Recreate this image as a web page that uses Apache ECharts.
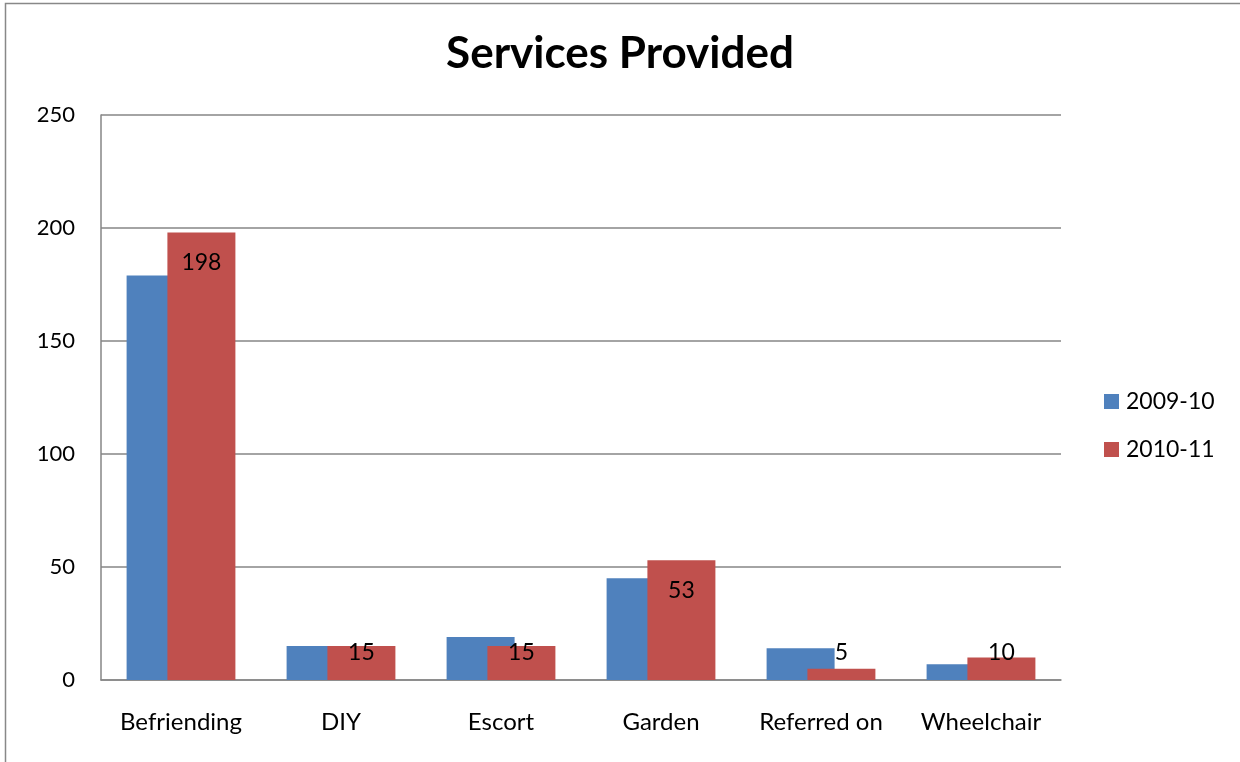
<!DOCTYPE html>
<html>
<head>
<meta charset="utf-8">
<style>
html,body{margin:0;padding:0;background:#fff;}
#chart{width:1240px;height:762px;}
</style>
<script src="https://cdn.jsdelivr.net/npm/echarts@6/dist/echarts.min.js"></script>
</head>
<body>
<div id="chart"></div>
<script>
var categories = ['Befriending', 'DIY', 'Escort', 'Garden', 'Referred on', 'Wheelchair'];
var series2009 = [179, 15, 19, 45, 14, 7];
var series2010 = [198, 15, 15, 53, 5, 10];
var seriesNames = ['2009-10', '2010-11'];
var yTicks = [0, 50, 100, 150, 200, 250];

var FONT = 'Lato';
var chart = echarts.init(document.getElementById('chart'));
chart.setOption({
  animation: false,
  backgroundColor: '#fff',
  textStyle: { fontFamily: FONT },
  graphic: [{
    type: 'rect',
    shape: { x: 5.5, y: 3.5, width: 1400, height: 900 },
    style: { fill: 'none', stroke: '#888', lineWidth: 1.5 },
    silent: true
  }],
  title: {
    text: 'Services Provided',
    left: 'center',
    top: 32,
    padding: 0,
    textStyle: { fontFamily: FONT, fontSize: 44, fontWeight: 'bold', color: '#000' }
  },
  legend: {
    orient: 'vertical',
    left: 1104,
    top: 390,
    padding: 0,
    itemWidth: 15,
    itemHeight: 15,
    itemGap: 25,
    icon: 'rect',
    textStyle: { fontFamily: FONT, fontSize: 23, color: '#000', padding: [0, 0, 0, 2] },
    data: seriesNames
  },
  grid: { left: 101, right: 179, top: 115, bottom: 82, containLabel: false },
  xAxis: {
    type: 'category',
    data: categories,
    axisLine: { lineStyle: { color: '#868686', width: 1.5 } },
    axisTick: { show: false },
    axisLabel: { fontFamily: FONT, fontSize: 24, color: '#000', margin: 30, interval: 0 }
  },
  yAxis: {
    type: 'value',
    min: yTicks[0],
    max: yTicks[yTicks.length - 1],
    interval: 50,
    axisLine: { show: true, lineStyle: { color: '#868686', width: 1.5 } },
    axisTick: { show: false },
    splitLine: { lineStyle: { color: '#868686', width: 1.5 } },
    axisLabel: { fontFamily: FONT, fontSize: 22, color: '#000', margin: 26 }
  },
  series: [
    {
      name: seriesNames[0],
      type: 'bar',
      data: series2009,
      barWidth: 68,
      barGap: '-40%',
      itemStyle: { color: '#4F81BD' }
    },
    {
      name: seriesNames[1],
      type: 'bar',
      data: series2010,
      barWidth: 68,
      barGap: '-40%',
      itemStyle: { color: '#C0504D' },
      label: {
        show: true,
        position: 'insideTop',
        fontFamily: FONT,
        fontSize: 23,
        color: '#000'
      },
      labelLayout: function (p) {
        var r = p.rect;
        var top = Math.min(r.y, r.y + r.height);
        var bottom = Math.max(r.y, r.y + r.height);
        var cy = Math.min(top + 30, bottom - 27.5);
        return { x: r.x + r.width / 2, y: cy, align: 'center', verticalAlign: 'middle' };
      }
    }
  ]
});
</script>
</body>
</html>
